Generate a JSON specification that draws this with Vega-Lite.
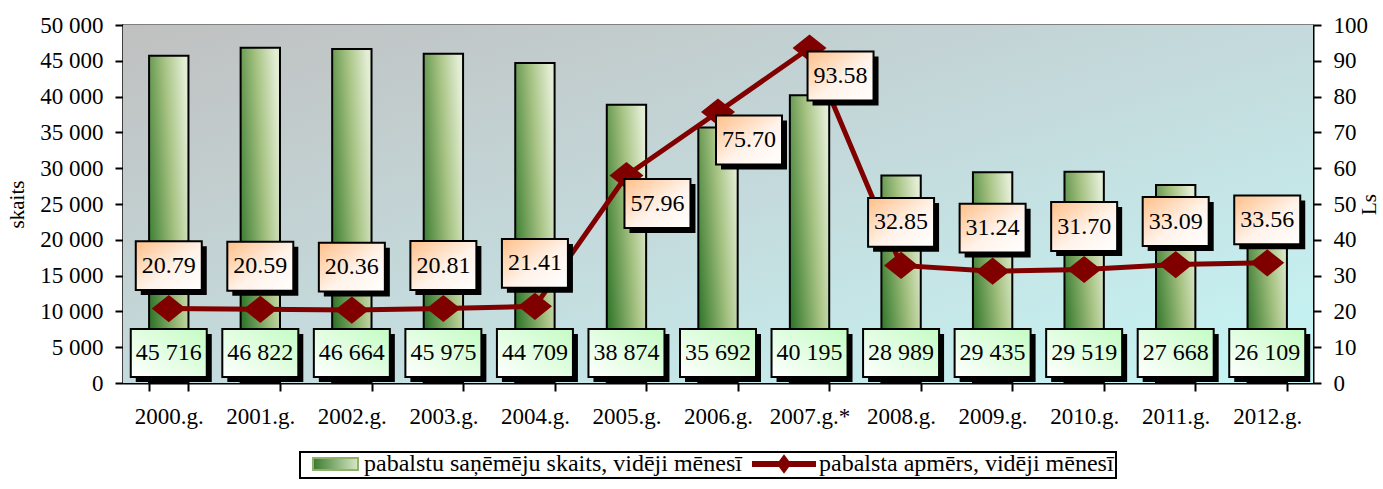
{
  "$schema": "https://vega.github.io/schema/vega-lite/v6.json",
  "width": 1190,
  "height": 358,
  "autosize": {"type": "none"},
  "padding": {"left": 123, "top": 25, "right": 70, "bottom": 106},
  "background": "white",
  "config": {
    "locale": {"number": {"decimal": ".", "thousands": " ", "grouping": [3], "currency": ["", ""]}},
    "view": {"stroke": "#808080", "strokeWidth": 2},
    "axis": {
      "labelFont": "Liberation Serif", "labelFontSize": 23, "labelColor": "black", "labelOverlap": false,
      "titleFont": "Liberation Serif", "titleFontSize": 21, "titleFontWeight": "normal", "titleColor": "black",
      "domainColor": "black", "domainWidth": 2, "tickColor": "black", "tickWidth": 2, "tickSize": 8, "grid": false
    }
  },
  "data": {
    "values": [
      {"year": "2000.g.", "count": 45716, "amount": 20.79},
      {"year": "2001.g.", "count": 46822, "amount": 20.59},
      {"year": "2002.g.", "count": 46664, "amount": 20.36},
      {"year": "2003.g.", "count": 45975, "amount": 20.81},
      {"year": "2004.g.", "count": 44709, "amount": 21.41},
      {"year": "2005.g.", "count": 38874, "amount": 57.96},
      {"year": "2006.g.", "count": 35692, "amount": 75.70},
      {"year": "2007.g.*", "count": 40195, "amount": 93.58},
      {"year": "2008.g.", "count": 28989, "amount": 32.85},
      {"year": "2009.g.", "count": 29435, "amount": 31.24},
      {"year": "2010.g.", "count": 29519, "amount": 31.70},
      {"year": "2011.g.", "count": 27668, "amount": 33.09},
      {"year": "2012.g.", "count": 26109, "amount": 33.56}
    ]
  },
  "resolve": {"scale": {"y": "independent"}},
  "layer": [
    {
      "layer": [
        {
          "data": {"values": [{"k": 1}]},
          "mark": {"type": "rect", "fill": {"gradient": "linear", "x1": 0, "y1": 0, "x2": 1, "y2": 1, "stops": [{"offset": 0, "color": "#c0c0c0"}, {"offset": 0.5, "color": "#c4dadc"}, {"offset": 1, "color": "#c6f6f6"}]}},
          "encoding": {}
        },
        {
          "mark": {"type": "bar", "stroke": "black", "strokeWidth": 2, "fill": {"gradient": "linear", "x1": 0, "y1": 0.75, "x2": 1, "y2": 0.25, "stops": [{"offset": 0, "color": "#2f7529"}, {"offset": 0.6, "color": "#a6c282"}, {"offset": 1, "color": "#e2edd4"}]}},
          "encoding": {
            "x": {"field": "year", "type": "nominal", "sort": null, "scale": {"paddingInner": 0.57}, "axis": {"title": null, "labelAngle": 0, "tickBand": "extent", "labelPadding": 14}},
            "y": {"field": "count", "type": "quantitative", "scale": {"domain": [0, 50000]}, "axis": {"title": "skaits", "orient": "left", "values": [0, 5000, 10000, 15000, 20000, 25000, 30000, 35000, 40000, 45000, 50000], "format": ",d", "labelOverlap": false, "labelPadding": 12, "titlePadding": 12}}
          }
        },
        {
          "mark": {"type": "point", "shape": "M-1,-0.63L1,-0.63L1,0.63L-1,0.63Z", "size": 5776, "filled": true, "fill": "black", "opacity": 1, "strokeWidth": 0, "xOffset": 5, "yOffset": -25},
          "encoding": {
            "x": {"field": "year", "type": "nominal", "sort": null},
            "y": {"datum": 0, "type": "quantitative", "axis": {"title": "skaits", "orient": "left", "values": [0, 5000, 10000, 15000, 20000, 25000, 30000, 35000, 40000, 45000, 50000], "format": ",d", "labelOverlap": false, "labelPadding": 12, "titlePadding": 12}}
          }
        },
        {
          "mark": {"type": "point", "shape": "M-1,-0.63L1,-0.63L1,0.63L-1,0.63Z", "size": 5776, "filled": true, "opacity": 1, "stroke": "black", "strokeWidth": 2, "yOffset": -30, "fill": {"gradient": "linear", "x1": 0, "y1": 1, "x2": 1, "y2": 0, "stops": [{"offset": 0, "color": "#ffffff"}, {"offset": 1, "color": "#c4fcc4"}]}},
          "encoding": {
            "x": {"field": "year", "type": "nominal", "sort": null},
            "y": {"datum": 0, "type": "quantitative", "axis": {"title": "skaits", "orient": "left", "values": [0, 5000, 10000, 15000, 20000, 25000, 30000, 35000, 40000, 45000, 50000], "format": ",d", "labelOverlap": false, "labelPadding": 12, "titlePadding": 12}}
          }
        },
        {
          "mark": {"type": "text", "font": "Liberation Serif", "fontSize": 24, "baseline": "middle", "align": "center", "fill": "black", "yOffset": -30},
          "encoding": {
            "x": {"field": "year", "type": "nominal", "sort": null},
            "y": {"datum": 0, "type": "quantitative", "axis": {"title": "skaits", "orient": "left", "values": [0, 5000, 10000, 15000, 20000, 25000, 30000, 35000, 40000, 45000, 50000], "format": ",d", "labelOverlap": false, "labelPadding": 12, "titlePadding": 12}},
            "text": {"field": "count", "type": "quantitative", "format": ",d"}
          }
        }
      ]
    },
    {
      "encoding": {
        "x": {"field": "year", "type": "nominal", "sort": null},
        "y": {"field": "amount", "type": "quantitative", "scale": {"domain": [0, 100]}, "axis": {"title": "Ls", "orient": "right", "values": [0, 10, 20, 30, 40, 50, 60, 70, 80, 90, 100], "labelOverlap": false, "labelPadding": 12, "titleAngle": 270, "titlePadding": 12}}
      },
      "layer": [
        {
          "mark": {"type": "line", "strokeWidth": 5},
          "encoding": {
            "color": {
              "datum": "pabalsta apmērs, vidēji mēnesī", "type": "nominal",
              "scale": {"domain": ["pabalstu saņēmēju skaits, vidēji mēnesī", "pabalsta apmērs, vidēji mēnesī"], "range": ["#8fb26a", "#800000"]},
              "legend": {
                "title": null, "orient": "none", "legendX": 177, "legendY": 427, "direction": "horizontal", "symbolSize": 1600,
                "labelFont": "Liberation Serif", "labelFontSize": 24, "labelLimit": 800, "labelColor": "black", "labelOffset": 35,
                "strokeColor": "black", "fillColor": "white", "padding": 2, "columnPadding": 0,
                "encode": {
                  "legend": {"update": {"strokeWidth": {"value": 2}}},
                  "labels": {
                    "update": {
                      "dx": {"signal": "indexof(datum.value, 'apmērs') >= 0 ? 0 : -15"},
                      "dy": {"value": -11}
                    }
                  },
                  "symbols": {
                    "update": {
                      "shape": {"signal": "indexof(datum.value, 'apmērs') >= 0 ? 'M-0.5,-0.65L2.6,-0.65L2.6,-0.45L-0.5,-0.45Z M0.75,-0.55L1.05,-0.95L1.35,-0.55L1.05,-0.15Z' : 'M-0.5,-0.85L1.75,-0.85L1.75,-0.25L-0.5,-0.25Z'"},
                      "fill": {"signal": "indexof(datum.value, 'apmērs') >= 0 ? '#800000' : {gradient: 'linear', x1: 0, y1: 0, x2: 1, y2: 0, stops: [{offset: 0, color: '#3a7a2e'}, {offset: 1, color: '#d8e8c4'}]}"},
                      "stroke": {"signal": "indexof(datum.value, 'apmērs') >= 0 ? 'transparent' : 'black'"},
                      "strokeWidth": {"value": 2},
                      "opacity": {"value": 1}
                    }
                  }
                }
              }
            }
          }
        },
        {
          "mark": {"type": "point", "shape": "M-1,0L0,-0.8L1,0L0,0.8Z", "size": 1156, "filled": true, "fill": "#800000", "opacity": 1, "strokeWidth": 0}
        },
        {
          "transform": [{"filter": "indexof(['2005.g.', '2006.g.', '2007.g.*'], datum.year) < 0"}],
          "layer": [
            {"mark": {"type": "point", "shape": "M-1,-0.74L1,-0.74L1,0.74L-1,0.74Z", "size": 4356, "filled": true, "fill": "black", "opacity": 1, "strokeWidth": 0, "xOffset": 5, "yOffset": -38}},
            {"mark": {"type": "point", "shape": "M-1,-0.74L1,-0.74L1,0.74L-1,0.74Z", "size": 4356, "filled": true, "opacity": 1, "stroke": "black", "strokeWidth": 2, "yOffset": -43, "fill": {"gradient": "linear", "x1": 0, "y1": 0, "x2": 1, "y2": 1, "stops": [{"offset": 0, "color": "#ffbf88"}, {"offset": 0.55, "color": "#fff3ea"}, {"offset": 1, "color": "#ffffff"}]}}},
            {"mark": {"type": "text", "font": "Liberation Serif", "fontSize": 24, "baseline": "middle", "align": "center", "fill": "black", "yOffset": -43}, "encoding": {"text": {"field": "amount", "type": "quantitative", "format": ".2f"}}}
          ]
        },
        {
          "transform": [{"filter": "indexof(['2005.g.', '2006.g.', '2007.g.*'], datum.year) >= 0"}],
          "layer": [
            {"mark": {"type": "point", "shape": "M-1,-0.74L1,-0.74L1,0.74L-1,0.74Z", "size": 4356, "filled": true, "fill": "black", "opacity": 1, "strokeWidth": 0, "xOffset": 36, "yOffset": 33}},
            {"mark": {"type": "point", "shape": "M-1,-0.74L1,-0.74L1,0.74L-1,0.74Z", "size": 4356, "filled": true, "opacity": 1, "stroke": "black", "strokeWidth": 2, "xOffset": 31, "yOffset": 28, "fill": {"gradient": "linear", "x1": 0, "y1": 0, "x2": 1, "y2": 1, "stops": [{"offset": 0, "color": "#ffbf88"}, {"offset": 0.55, "color": "#fff3ea"}, {"offset": 1, "color": "#ffffff"}]}}},
            {"mark": {"type": "text", "font": "Liberation Serif", "fontSize": 24, "baseline": "middle", "align": "center", "fill": "black", "xOffset": 31, "yOffset": 28}, "encoding": {"text": {"field": "amount", "type": "quantitative", "format": ".2f"}}}
          ]
        }
      ]
    }
  ]
}
